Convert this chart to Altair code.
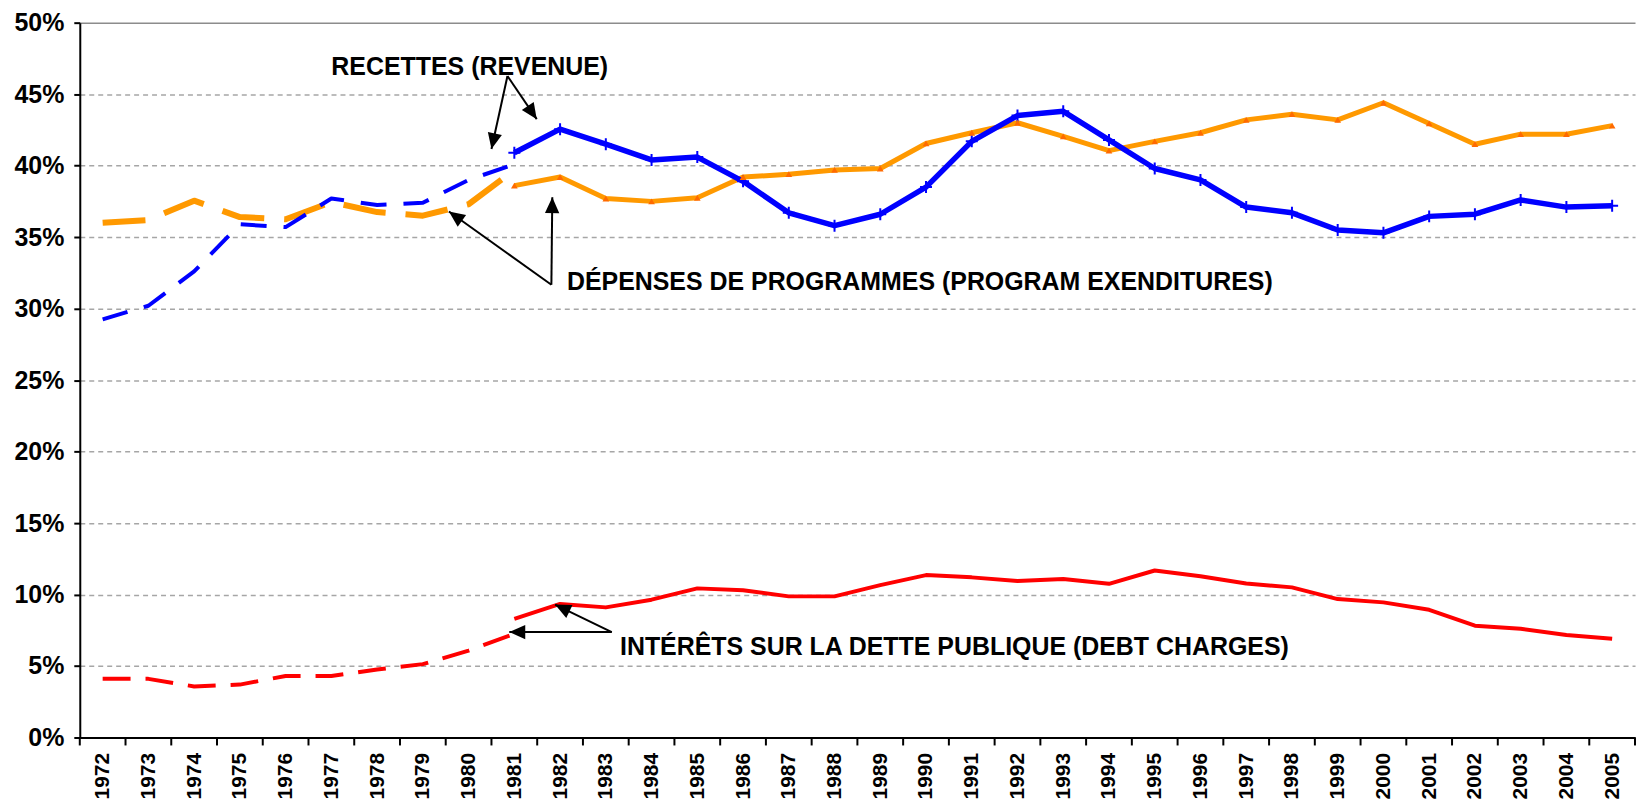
import math
import altair as alt
import pandas as pd

FONT = "Liberation Sans"

# ---------------- data ----------------
years = list(range(1972, 2006))
years_early = list(range(1972, 1982))
years_late = list(range(1981, 2006))

revenue_early = [29.25, 30.2, 32.6, 35.9, 35.7, 37.7, 37.25, 37.4, 39.0, 40.1]
revenue_late = [40.9, 42.55, 41.5, 40.4, 40.6, 38.9, 36.7, 35.8, 36.6, 38.5,
                41.7, 43.5, 43.8, 41.8, 39.8, 39.0, 37.1, 36.7, 35.5, 35.3,
                36.45, 36.6, 37.6, 37.1, 37.2]

program_early = [36.0, 36.2, 37.55, 36.4, 36.25, 37.45, 36.75, 36.5, 37.3, 39.7]
program_late = [38.6, 39.2, 37.7, 37.5, 37.75, 39.2, 39.4, 39.7, 39.8, 41.55,
                42.3, 43.0, 42.05, 41.05, 41.7, 42.3, 43.2, 43.6, 43.2, 44.4,
                42.95, 41.5, 42.2, 42.2, 42.8]

debt_early = [4.1, 4.1, 3.57, 3.7, 4.3, 4.3, 4.76, 5.13, 6.08, 7.25]
debt_late = [8.3, 9.34, 9.1, 9.64, 10.43, 10.3, 9.87, 9.87, 10.66, 11.36,
             11.2, 10.94, 11.08, 10.75, 11.68, 11.28, 10.77, 10.5, 9.68, 9.45,
             8.93, 7.82, 7.6, 7.17, 6.9]

y_ticks = [0, 5, 10, 15, 20, 25, 30, 35, 40, 45, 50]

labels = ["RECETTES (REVENUE)",
          "DÉPENSES DE PROGRAMMES (PROGRAM EXENDITURES)",
          "INTÉRÊTS SUR LA DETTE PUBLIQUE (DEBT CHARGES)"]
label_x = [1977.0, 1982.15, 1983.31]
label_y = [46.34, 31.29, 5.80]

arrow_x0 = [1980.85, 1980.85, 1981.81, 1981.81, 1983.13, 1983.13]
arrow_y0 = [46.27, 46.27, 31.67, 31.67, 7.37, 7.37]
arrow_x1 = [1980.5, 1981.49, 1979.57, 1981.83, 1980.89, 1981.89]
arrow_y1 = [41.16, 43.25, 36.79, 37.79, 7.37, 9.30]

# ---------------- layout ----------------
W, H = 1560, 717
X_DOMAIN = [years[0] - 0.5, years[-1] + 0.5]
Y_DOMAIN = [0, 50]

xs_ = alt.Scale(domain=X_DOMAIN, nice=False, zero=False)
ys_ = alt.Scale(domain=Y_DOMAIN, nice=False, zero=True)

xaxis = alt.Axis(values=years, format="d", labelAngle=-90, ticks=False, grid=False,
                 domainColor="black", domainWidth=2, labelFont=FONT, labelFontSize=21,
                 labelFontWeight="bold", labelColor="black", labelPadding=15,
                 labelFlush=False, labelOverlap=False, labelBound=False, title=None)
yaxis = alt.Axis(values=y_ticks, labelExpr="datum.value + '%'", grid=True,
                 gridColor={"condition": {"test": "datum.value === 50", "value": "#8c8c8c"},
                            "value": "#a6a6a6"},
                 gridDash={"condition": {"test": "datum.value === 50", "value": []},
                           "value": [5, 4]},
                 gridWidth=1.5, domainColor="black", domainWidth=2, tickColor="black",
                 tickWidth=2, tickSize=6, labelPadding=10, labelFont=FONT,
                 labelFontSize=25, labelFontWeight="bold", labelColor="black", title=None)


def line_layer(xv, vv, color, width, dash=None):
    df = pd.DataFrame({"year": xv, "value": vv})
    kw = dict(color=color, strokeWidth=width, strokeCap="butt", strokeJoin="round")
    if dash is not None:
        kw["strokeDash"] = dash
    return alt.Chart(df).mark_line(**kw).encode(
        x=alt.X("year:Q", scale=xs_, axis=xaxis),
        y=alt.Y("value:Q", scale=ys_, axis=yaxis),
    )


BLUE, ORANGE, RED = "#0000FF", "#FF9900", "#FF0000"

red_d = line_layer(years_early, debt_early, RED, 4, [28, 15])
red_s = line_layer(years_late, debt_late, RED, 4)
orange_d = line_layer(years_early, program_early, ORANGE, 6, [43, 20])
blue_d = line_layer(years_early, revenue_early, BLUE, 4, [26, 17])
orange_s = line_layer(years_late, program_late, ORANGE, 5)
blue_s = line_layer(years_late, revenue_late, BLUE, 5.5)

blue_pts = alt.Chart(pd.DataFrame({"year": years_late, "value": revenue_late})).mark_point(
    shape="M-1,0L1,0M0,-1L0,1", filled=False, color=BLUE, strokeWidth=2, size=144, opacity=1
).encode(x=alt.X("year:Q", scale=xs_, axis=xaxis), y=alt.Y("value:Q", scale=ys_, axis=yaxis))

orange_pts = alt.Chart(pd.DataFrame({"year": years_late, "value": program_late})).mark_point(
    shape="triangle-up", filled=True, color="#FF6A00", size=45, opacity=1
).encode(x=alt.X("year:Q", scale=xs_, axis=xaxis), y=alt.Y("value:Q", scale=ys_, axis=yaxis))

# tick marks between categories
bounds = [y - 0.5 for y in years] + [years[-1] + 0.5]
ticks = alt.Chart(pd.DataFrame({"bound": bounds})).mark_rule(color="black", strokeWidth=2).encode(
    x=alt.X("bound:Q", scale=xs_, axis=xaxis),
    y=alt.value(H), y2=alt.value(H + 8),
)

# arrows
px_per_x = W / (X_DOMAIN[1] - X_DOMAIN[0])
px_per_y = H / (Y_DOMAIN[1] - Y_DOMAIN[0])
angles = []
for a, b, c, d in zip(arrow_x0, arrow_y0, arrow_x1, arrow_y1):
    dx = (c - a) * px_per_x
    dy = -(d - b) * px_per_y
    angles.append(math.degrees(math.atan2(dx, -dy)) % 360)

arrows_df = pd.DataFrame({"x0": arrow_x0, "y0": arrow_y0, "x1": arrow_x1,
                          "y1": arrow_y1, "ang": angles})
arrow_lines = alt.Chart(arrows_df).mark_rule(color="black", strokeWidth=2).encode(
    x=alt.X("x0:Q", scale=xs_, axis=xaxis), y=alt.Y("y0:Q", scale=ys_, axis=yaxis),
    x2="x1:Q", y2="y1:Q",
)
arrow_heads = alt.Chart(arrows_df).mark_point(
    shape="M0,0L-0.45,1L0.45,1Z", filled=True, color="black", size=1024, opacity=1
).encode(
    x=alt.X("x1:Q", scale=xs_, axis=xaxis), y=alt.Y("y1:Q", scale=ys_, axis=yaxis),
    angle=alt.Angle("ang:Q", scale=None),
)

texts = alt.Chart(pd.DataFrame({"tx": label_x, "ty": label_y, "label": labels})).mark_text(
    align="left", baseline="alphabetic", font=FONT, fontSize=25, fontWeight="bold", color="black"
).encode(
    x=alt.X("tx:Q", scale=xs_, axis=xaxis), y=alt.Y("ty:Q", scale=ys_, axis=yaxis), text="label:N",
)

chart = alt.layer(
    red_d, red_s, orange_d, blue_d, orange_s, blue_s, blue_pts, orange_pts,
    ticks, arrow_lines, arrow_heads, texts,
).properties(
    width=W, height=H,
    padding={"left": 72, "top": 13.5, "right": 4, "bottom": 64},
    autosize=alt.AutoSizeParams(type="none"),
    background="white",
).configure_view(stroke="transparent")

chart.save("out.html", embed_options={"renderer": "svg", "actions": False})
